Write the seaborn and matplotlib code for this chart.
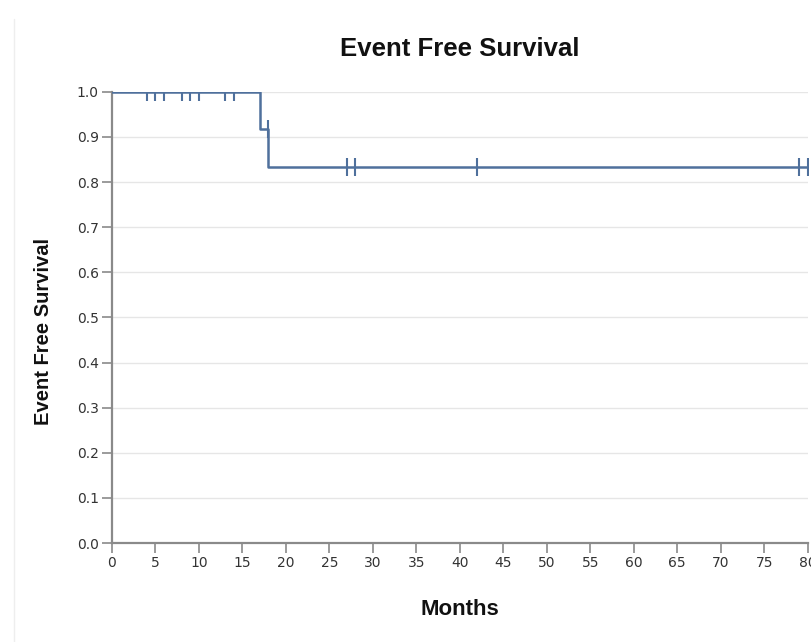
import matplotlib
matplotlib.use("Agg")
import matplotlib.pyplot as plt
import seaborn as sns
import pandas as pd
from matplotlib.lines import Line2D

# Kaplan-Meier step data
step_months = [0, 17, 18, 80]
step_survival = [1.0, 0.917, 0.833, 0.833]

# Censored observations
censor_months = [4, 5, 6, 8, 9, 10, 13, 14, 18, 27, 28, 42, 79, 80]
censor_survival = [1.0, 1.0, 1.0, 1.0, 1.0, 1.0, 1.0, 1.0, 0.917, 0.833, 0.833, 0.833, 0.833, 0.833]

x_ticks = list(range(0, 81, 5))
y_ticks = [0.0, 0.1, 0.2, 0.3, 0.4, 0.5, 0.6, 0.7, 0.8, 0.9, 1.0]

sns.set_theme(style="white")
plt.rcParams['font.family'] = ['DejaVu Sans']

line_color = "#4f709c"
axis_color = "#8a8a8a"
bold_font = ["Liberation Sans", "DejaVu Sans"]

fig = plt.figure(figsize=(8.11, 6.42), dpi=100)
ax = fig.add_axes([0.138, 0.154, 0.858, 0.703])

steps = pd.DataFrame({"Months": step_months, "Survival": step_survival})
cens = pd.DataFrame({"Months": censor_months, "Survival": censor_survival})

for y in y_ticks[1:]:
    ax.axhline(y, color="#e6e6e6", lw=1, zorder=0)

sns.lineplot(data=steps, x="Months", y="Survival", drawstyle="steps-post",
             color=line_color, lw=1.8, ax=ax, zorder=3)
sns.scatterplot(data=cens, x="Months", y="Survival", marker="|", s=170,
                color=line_color, linewidth=1.5, ax=ax, zorder=4)

ax.set_xlim(0, 80)
ax.set_ylim(0, 1.0)
ax.set_xticks(x_ticks)
ax.set_xticklabels([str(v) for v in x_ticks])
ax.set_yticks(y_ticks)
ax.set_yticklabels([f"{v:.1f}" for v in y_ticks])

for s in ["top", "right"]:
    ax.spines[s].set_visible(False)
for s in ["left", "bottom"]:
    ax.spines[s].set_color(axis_color)
    ax.spines[s].set_linewidth(1.6)

ax.tick_params(axis="both", which="major", length=7.5, width=1.2, color=axis_color,
               labelsize=10, labelcolor="#333333", bottom=True, left=True, pad=2)

ax.set_xlabel("Months", fontsize=16, fontweight="bold", family=bold_font,
              labelpad=21, color="#111111")
ax.set_ylabel("Event Free Survival", fontsize=14.5, fontweight="bold", family=bold_font,
              color="#111111")
ax.yaxis.set_label_coords(-0.084, 0.468)
fig.text(0.567, 0.924, "Event Free Survival", ha="center", va="center", fontsize=18.5,
         fontweight="bold", family=bold_font, color="#111111")

fig.add_artist(Line2D([0.017, 0.017], [0.0, 0.97], color="#eeeeee", lw=1, transform=fig.transFigure))

fig.savefig("out.png", dpi=100)
